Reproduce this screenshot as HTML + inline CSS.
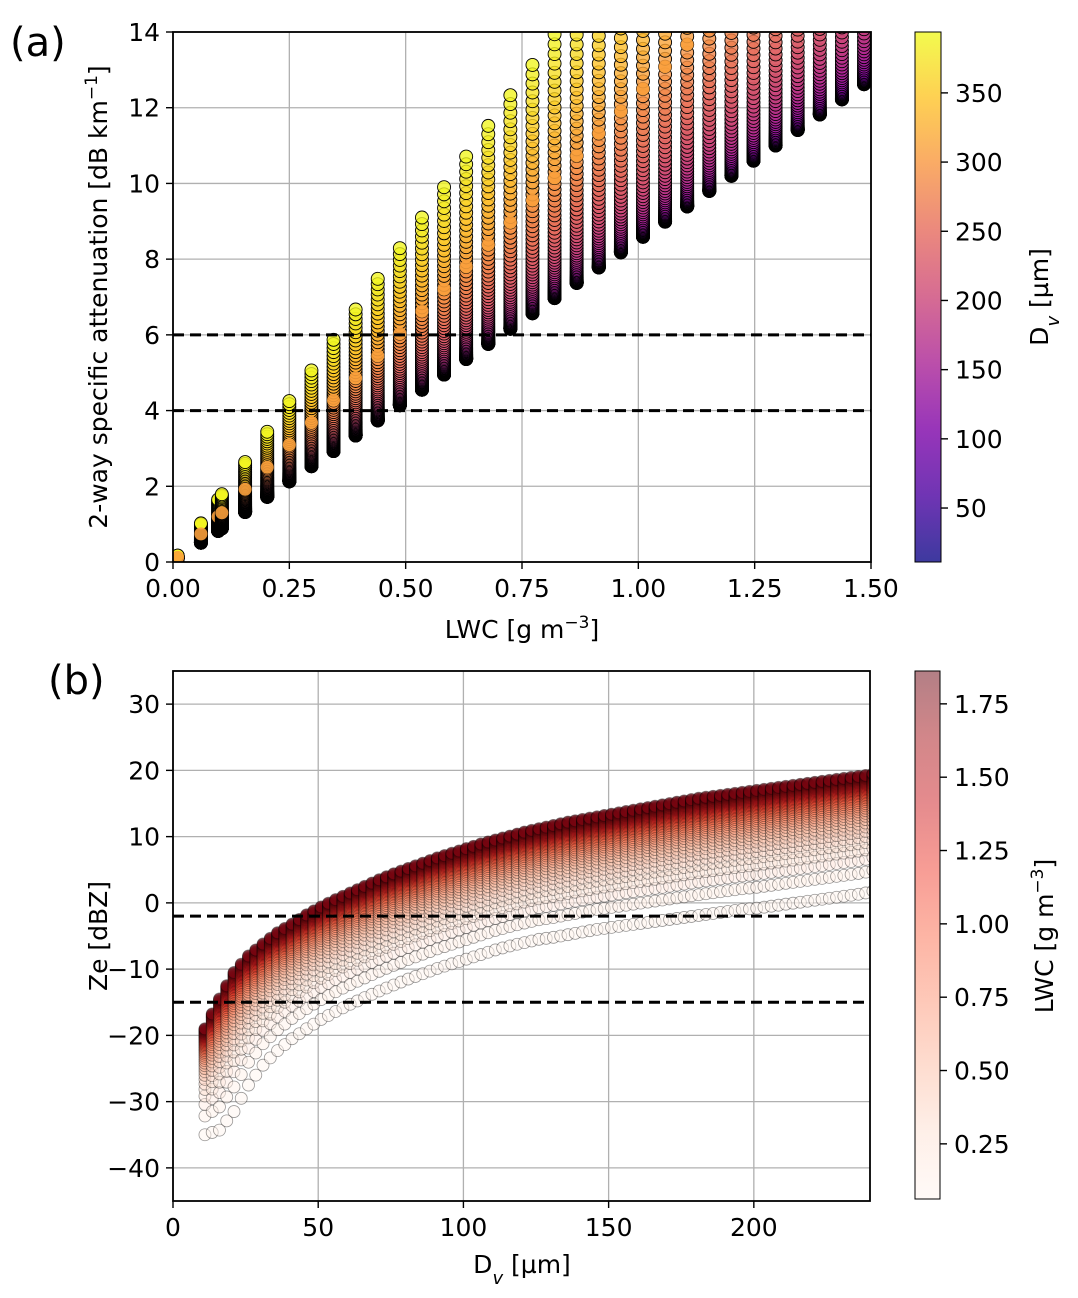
<!DOCTYPE html>
<html><head><meta charset="utf-8">
<style>
html,body{margin:0;padding:0;background:#fff;}
svg{display:block;font-family:"DejaVu Sans","Liberation Sans",sans-serif;}
</style></head>
<body>
<svg id="fig" width="1078" height="1298" viewBox="0 0 1078 1298" xmlns="http://www.w3.org/2000/svg">
<defs>
<clipPath id="clipA"><rect x="173" y="32" width="698" height="530"/></clipPath>
<clipPath id="clipB"><rect x="173" y="671" width="697" height="530"/></clipPath>
<linearGradient id="gradPlasma" x1="0" y1="1" x2="0" y2="0">
<stop offset="0" stop-color="rgb(13,8,135)"/><stop offset="0.125" stop-color="rgb(76,2,161)"/>
<stop offset="0.25" stop-color="rgb(126,3,168)"/><stop offset="0.375" stop-color="rgb(170,35,149)"/>
<stop offset="0.5" stop-color="rgb(204,71,120)"/><stop offset="0.625" stop-color="rgb(230,107,93)"/>
<stop offset="0.75" stop-color="rgb(248,149,64)"/><stop offset="0.875" stop-color="rgb(254,196,40)"/>
<stop offset="1" stop-color="rgb(240,249,33)"/>
</linearGradient>
<linearGradient id="gradReds" x1="0" y1="1" x2="0" y2="0">
<stop offset="0" stop-color="rgb(255,245,240)"/><stop offset="0.125" stop-color="rgb(254,224,210)"/>
<stop offset="0.25" stop-color="rgb(252,187,161)"/><stop offset="0.375" stop-color="rgb(252,146,114)"/>
<stop offset="0.5" stop-color="rgb(251,106,74)"/><stop offset="0.625" stop-color="rgb(239,59,44)"/>
<stop offset="0.75" stop-color="rgb(203,24,29)"/><stop offset="0.875" stop-color="rgb(165,15,21)"/>
<stop offset="1" stop-color="rgb(103,0,13)"/>
</linearGradient>
</defs>

<text x="10" y="56" font-size="40">(a)</text>
<text x="48" y="694" font-size="40">(b)</text>

<g id="gridA"></g>
<g id="pointsA" clip-path="url(#clipA)"></g>
<g id="gridB"></g>
<g id="pointsB" clip-path="url(#clipB)"></g>

<line x1="173" x2="871" y1="410.6" y2="410.6" stroke="#000" stroke-width="3" stroke-dasharray="11,6"/>
<line x1="173" x2="871" y1="334.9" y2="334.9" stroke="#000" stroke-width="3" stroke-dasharray="11,6"/>
<line x1="173" x2="870" y1="916.1" y2="916.1" stroke="#000" stroke-width="3" stroke-dasharray="11,6"/>
<line x1="173" x2="870" y1="1002.3" y2="1002.3" stroke="#000" stroke-width="3" stroke-dasharray="11,6"/>

<rect x="173" y="32" width="698" height="530" fill="none" stroke="#000" stroke-width="1.8"/>
<rect x="173" y="671" width="697" height="530" fill="none" stroke="#000" stroke-width="1.8"/>

<g id="ticksA" font-size="25"></g>
<g id="ticksB" font-size="25"></g>

<text x="522" y="638" font-size="25" text-anchor="middle">LWC [g m<tspan baseline-shift="super" font-size="17">−3</tspan>]</text>
<text transform="translate(107,297) rotate(-90)" font-size="25" text-anchor="middle">2-way specific attenuation [dB km<tspan baseline-shift="super" font-size="17">−1</tspan>]</text>
<text x="522" y="1273" font-size="25" text-anchor="middle">D<tspan font-style="italic" font-size="18" baseline-shift="sub">v</tspan> [µm]</text>
<text transform="translate(107,936) rotate(-90)" font-size="25" text-anchor="middle">Ze [dBZ]</text>

<rect x="915" y="32" width="26" height="530" fill="url(#gradPlasma)" fill-opacity="0.8" stroke="#000" stroke-width="1"/>
<rect x="915" y="671" width="25" height="528" fill="url(#gradReds)" fill-opacity="0.5" stroke="#000" stroke-width="1"/>
<g id="cbTicks" font-size="25"></g>
<text transform="translate(1048,297) rotate(-90)" font-size="25" text-anchor="middle">D<tspan font-style="italic" font-size="18" baseline-shift="sub">v</tspan> [µm]</text>
<text transform="translate(1053,936) rotate(-90)" font-size="25" text-anchor="middle">LWC [g m<tspan baseline-shift="super" font-size="17">−3</tspan>]</text>
</svg>

<script>
// ---- Panel (a) data ----
const lwcColsA = [0.01,0.06,0.097,0.105,0.155,0.2025,0.25,0.2975,0.345,0.3925,0.44,0.4875,0.535,0.5825,0.63,0.6775,0.725,0.7725,0.82,0.8675,0.915,0.9625,1.01,1.0575,1.105,1.1525,1.2,1.2475,1.295,1.3425,1.39,1.4375,1.485];
const attMinA = [0.085,0.51,0.82,0.89,1.32,1.72,2.13,2.53,2.93,3.34,3.74,4.14,4.55,4.95,5.36,5.76,6.16,6.57,6.97,7.37,7.78,8.18,8.59,8.99,9.39,9.80,10.2,10.6,11.0,11.41,11.82,12.22,12.62];
const attMaxA = [0.17,1.02,1.65,1.79,2.64,3.44,4.25,5.06,5.87,6.67,7.48,8.29,9.10,9.90,10.71,11.52,12.33,13.13,13.94,14.75,15.56,16.36,17.17,17.98,18.79,19.59,20.4,21.2,22.0,22.8,23.6,24.4,25.2];
const dvLevelsA = [10,15,20,25,30,35,40,45,50,55,60,65,70,75,80,85,90,95,100,105,110,115,120,125,130,135,140,145,150,155,160,165,170,175,180,185,190,195,200,205,210,215,220,225,230,235,240,245,250,255,260,265,270,275,280,285,290,295,300,305,310,315,320,325,330,335,340,345,350,355,360,365,370,375,380,385,390];
const xTicksA = ["0.00","0.25","0.50","0.75","1.00","1.25","1.50"];
const yTicksA = ["0","2","4","6","8","10","12","14"];
const cbTicksA = ["50","100","150","200","250","300","350"];
// ---- Panel (b) data ----
const dvColsB = [11,13.5,16,18.5,21,23.5,26,28.5,31,33.5,36,38.5,41,43.5,46,48.5,51,53.5,56,58.5,61,63.5,66,68.5,71,73.5,76,78.5,81,83.5,86,88.5,91,93.5,96,98.5,101,103.5,106,108.5,111,113.5,116,118.5,121,123.5,126,128.5,131,133.5,136,138.5,141,143.5,146,148.5,151,153.5,156,158.5,161,163.5,166,168.5,171,173.5,176,178.5,181,183.5,186,188.5,191,193.5,196,198.5,201,203.5,206,208.5,211,213.5,216,218.5,221,223.5,226,228.5,231,233.5,236,238.5,241];
const zeTopB = [-19,-16.75,-14.5,-12.5,-10.5,-9.25,-8,-7.1,-6.2,-5.35,-4.5,-3.85,-3.2,-2.5,-1.8,-1.2,-0.6,-0.05,0.5,1.0,1.5,2.0,2.5,3.0,3.5,3.95,4.4,4.8,5.2,5.6,6.0,6.4,6.8,7.15,7.5,7.85,8.2,8.55,8.9,9.2,9.5,9.8,10.1,10.4,10.7,10.95,11.2,11.45,11.7,11.95,12.2,12.4,12.6,12.8,13.0,13.2,13.4,13.6,13.8,14.0,14.2,14.4,14.6,14.8,15.0,15.2,15.4,15.6,15.8,15.95,16.1,16.25,16.4,16.55,16.7,16.85,17.0,17.15,17.3,17.45,17.6,17.75,17.9,18.05,18.2,18.35,18.5,18.65,18.8,18.95,19.1,19.25,19.5];
const zeBotB = [-35,-34.65,-34.3,-32.9,-31.5,-29.5,-27.5,-26,-24.5,-23.4,-22.3,-21.4,-20.5,-19.75,-19,-18.3,-17.6,-17,-16.4,-15.85,-15.3,-14.8,-14.3,-13.8,-13.3,-12.85,-12.4,-11.95,-11.5,-11.1,-10.7,-10.3,-9.9,-9.55,-9.2,-8.85,-8.5,-8.15,-7.8,-7.45,-7.1,-6.8,-6.5,-6.25,-6.0,-5.75,-5.5,-5.35,-5.2,-5.0,-4.8,-4.6,-4.4,-4.2,-4.0,-3.85,-3.7,-3.55,-3.4,-3.25,-3.1,-2.95,-2.8,-2.65,-2.5,-2.35,-2.2,-2.05,-1.9,-1.75,-1.6,-1.45,-1.3,-1.15,-1.0,-0.9,-0.8,-0.65,-0.5,-0.35,-0.2,-0.05,0.1,0.25,0.4,0.55,0.7,0.85,1.0,1.15,1.3,1.5,1.8];
const lwcLevelsB = [0.06,0.11,0.16,0.21,0.26,0.31,0.36,0.41,0.46,0.51,0.56,0.61,0.66,0.71,0.76,0.81,0.86,0.91,0.96,1.01,1.06,1.11,1.16,1.21,1.26,1.31,1.36,1.41,1.46,1.51,1.56,1.61,1.66,1.71,1.76,1.81,1.85];
const xTicksB = ["0","50","100","150","200"];
const yTicksB = ["−40","−30","−20","−10","0","10","20","30"];
const cbTicksB = ["0.25","0.50","0.75","1.00","1.25","1.50","1.75"];

const NS="http://www.w3.org/2000/svg";
function mk(tag,attrs,parent){const e=document.createElementNS(NS,tag);for(const k in attrs)e.setAttribute(k,attrs[k]);parent.appendChild(e);return e;}
const num=s=>parseFloat(s.replace("−","-"));

const xA=v=>173+v/1.5*698, yA=v=>562-v/14*530;
const xB=v=>173+v/240*697, yB=v=>671+(35-v)*530/80;
const cbA=v=>562-(v-11)/(394-11)*530, cbB=v=>1199-(v-0.062)/(1.862-0.062)*528;

const plasma=[[13,8,135],[76,2,161],[126,3,168],[170,35,149],[204,71,120],[230,107,93],[248,149,64],[254,196,40],[240,249,33]];
const reds=[[255,245,240],[254,224,210],[252,187,161],[252,146,114],[251,106,74],[239,59,44],[203,24,29],[165,15,21],[103,0,13]];
function cmap(m,t){t=Math.max(0,Math.min(1,t));const f=t*8,i=Math.min(7,Math.floor(f)),r=f-i;const a=m[i],b=m[i+1];return `rgb(${Math.round(a[0]+(b[0]-a[0])*r)},${Math.round(a[1]+(b[1]-a[1])*r)},${Math.round(a[2]+(b[2]-a[2])*r)})`;}

const gA=document.getElementById('gridA'), tA=document.getElementById('ticksA');
xTicksA.forEach(s=>{const x=xA(num(s));
 const g=mk('line',{x1:x,x2:x,y1:32,y2:562,stroke:'#b0b0b0','stroke-width':1.3},gA);
 
 
 const tk=mk('line',{x1:x,x2:x,y1:562,y2:569,stroke:'#000','stroke-width':1.4},tA);
 
 
 const t=mk('text',{x:x,y:597,'text-anchor':'middle'},tA);t.textContent=s;
 
 });
yTicksA.forEach(s=>{const y=yA(num(s));
 const g=mk('line',{x1:173,x2:871,y1:y,y2:y,stroke:'#b0b0b0','stroke-width':1.3},gA);
 
 
 const tk=mk('line',{x1:166,x2:173,y1:y,y2:y,stroke:'#000','stroke-width':1.4},tA);
 
 
 const t=mk('text',{x:160,y:y+9,'text-anchor':'end'},tA);t.textContent=s;
 
 });

const pA=document.getElementById('pointsA');
const d0=dvLevelsA[0],d1=dvLevelsA[dvLevelsA.length-1];
lwcColsA.forEach((L,ci)=>{
 const lo=attMinA[ci],hi=attMaxA[ci];
 dvLevelsA.forEach(dv=>{
  const f=(dv**3-d0**3)/(d1**3-d0**3);
  const v=lo+(hi-lo)*f;
  const c=mk('circle',{cx:xA(L),cy:yA(v),r:6.5,fill:cmap(plasma,(dv-11)/(394-11)),'fill-opacity':0.8,stroke:'#000','stroke-width':0.9},pA);
  
  
 });
 const f3=(300**3-d0**3)/(d1**3-d0**3);
 const o=mk('circle',{cx:xA(L),cy:yA(lo+(hi-lo)*f3),r:6.5,fill:'rgb(250,160,60)','fill-opacity':0.9},pA);
 
 
});

const gB=document.getElementById('gridB'), tB=document.getElementById('ticksB');
xTicksB.forEach(s=>{const x=xB(num(s));
 const g=mk('line',{x1:x,x2:x,y1:671,y2:1201,stroke:'#b0b0b0','stroke-width':1.3},gB);
 
 
 const tk=mk('line',{x1:x,x2:x,y1:1201,y2:1208,stroke:'#000','stroke-width':1.4},tB);
 
 
 const t=mk('text',{x:x,y:1236,'text-anchor':'middle'},tB);t.textContent=s;
 
 });
yTicksB.forEach(s=>{const y=yB(num(s));
 const g=mk('line',{x1:173,x2:870,y1:y,y2:y,stroke:'#b0b0b0','stroke-width':1.3},gB);
 
 
 const tk=mk('line',{x1:166,x2:173,y1:y,y2:y,stroke:'#000','stroke-width':1.4},tB);
 
 
 const t=mk('text',{x:160,y:y+9,'text-anchor':'end'},tB);t.textContent=s;
 
 });

const pB=document.getElementById('pointsB');
const l0=lwcLevelsB[0],l1=lwcLevelsB[lwcLevelsB.length-1];
dvColsB.forEach((dv,ci)=>{
 const lo=zeBotB[ci],hi=zeTopB[ci];
 lwcLevelsB.forEach(L=>{
  const f=Math.log(L/l0)/Math.log(l1/l0);
  const v=lo+(hi-lo)*f;
  const c=mk('circle',{cx:xB(dv),cy:yB(v),r:6,fill:cmap(reds,(L-0.062)/1.8),'fill-opacity':0.5,stroke:'rgba(0,0,0,0.4)','stroke-width':0.8},pB);
  
  
 });
});

const cbT=document.getElementById('cbTicks');
cbTicksA.forEach(s=>{const y=cbA(num(s));
 const tk=mk('line',{x1:941,x2:948,y1:y,y2:y,stroke:'#000','stroke-width':1.4},cbT);
 
 
 const t=mk('text',{x:955,y:y+9},cbT);t.textContent=s;
 
 });
cbTicksB.forEach(s=>{const y=cbB(num(s));
 const tk=mk('line',{x1:940,x2:947,y1:y,y2:y,stroke:'#000','stroke-width':1.4},cbT);
 
 
 const t=mk('text',{x:954,y:y+9},cbT);t.textContent=s;
 
 });
</script>
</body></html>
